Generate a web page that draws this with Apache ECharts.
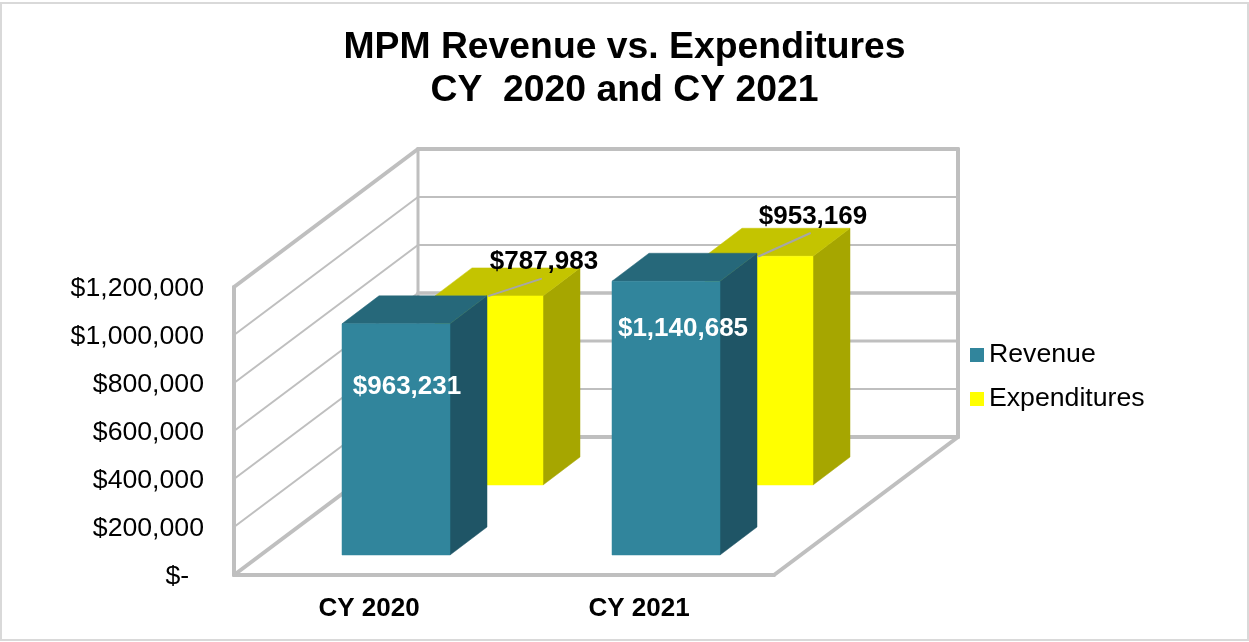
<!DOCTYPE html>
<html>
<head>
<meta charset="utf-8">
<style>html,body{margin:0;padding:0;background:#fff}#c{width:1249px;height:642px}</style>
<script src="https://cdn.jsdelivr.net/npm/echarts@6/dist/echarts.min.js"></script>
</head>
<body>
<div id="c"></div>
<script>
const categories = ['CY 2020', 'CY 2021'];
const revenue = [963231, 1140685];
const expenditures = [787983, 953169];
const tickValues = [0, 200000, 400000, 600000, 800000, 1000000, 1200000];
const tickLabels = ['$-  ', '$200,000', '$400,000', '$600,000', '$800,000', '$1,000,000', '$1,200,000'];
const revenueLabels = ['$963,231', '$1,140,685'];
const expenditureLabels = ['$787,983', '$953,169'];

const FONT = '"Liberation Sans", Arial, sans-serif';
const DEPTH = [184, -138];          // full depth of the 3D box in pixels
const WALL = '#BFBFBF';
const backWidths = [4, 2, 3, 3.5, 2, 2, 4];
const sideWidths = [4, 2, 2, 2, 2, 2, 4];

function line(x1, y1, x2, y2, w, color) {
  return { type: 'line', shape: { x1, y1, x2, y2 }, style: { stroke: color || WALL, lineWidth: w, lineCap: 'round', fill: null } };
}
function poly(points, fill) {
  return { type: 'polygon', shape: { points }, style: { fill, stroke: fill, lineWidth: 0.5 } };
}

function wallItem(params, api) {
  const i = params.dataIndex;
  const band = api.size([1, 0])[0];
  const p = api.coord([0, api.value(1)]);
  const xL = p[0] - band / 2, y = p[1];
  const xR = xL + band * categories.length;
  const [dx, dy] = DEPTH;
  const kids = [
    line(xL, y, xL + dx, y + dy, sideWidths[i]),
    line(xL + dx, y + dy, xR + dx, y + dy, backWidths[i])
  ];
  if (i === 0) {
    const top = api.coord([0, tickValues[tickValues.length - 1]])[1];
    kids.push(line(xL, y, xL, top, 4));
    kids.push(line(xL + dx, y + dy, xL + dx, top + dy, 3));
    kids.push(line(xR + dx, y + dy, xR + dx, top + dy, 4));
    kids.push(line(xL, y, xR, y, 4));
    kids.push(line(xR, y, xR + dx, y + dy, 4));
  }
  return { type: 'group', children: kids };
}

function barRenderer(cfg) {
  return function (params, api) {
    const i = params.dataIndex;
    const band = api.size([1, 0])[0];
    const c = api.coord([api.value(0), api.value(1)]);
    const c0 = api.coord([api.value(0), 0]);
    const w = band * 0.4;
    const x0 = c[0] - w / 2 + cfg.offX, x1 = x0 + w;
    const yt = c[1] + cfg.offY, yb = c0[1] + cfg.offY;
    const dx = 37, dy = -28;
    const kids = [
      poly([[x1, yt], [x1 + dx, yt + dy], [x1 + dx, yb + dy], [x1, yb]], cfg.side),
      poly([[x0, yt], [x0 + dx, yt + dy], [x1 + dx, yt + dy], [x1, yt]], cfg.top),
      poly([[x0, yt], [x1, yt], [x1, yb], [x0, yb]], cfg.front)
    ];
    if (cfg.leader) {
      const l = cfg.leader[i];
      kids.push(line(x0 + l[0], yt + l[1], x0 + l[2], yt + l[3], 2, '#A6A6A6'));
    }
    const o = cfg.labelAt[i];
    kids.push({
      type: 'text', z2: 10,
      style: {
        text: cfg.labels[i], x: x0 + o[0], y: yt + o[1],
        textAlign: 'center', textVerticalAlign: 'middle',
        fill: cfg.textColor, font: 'bold 26px ' + FONT
      }
    });
    return { type: 'group', children: kids };
  };
}

const chart = echarts.init(document.getElementById('c'), null, { renderer: 'canvas' });
chart.setOption({
  animation: false,
  backgroundColor: '#fff',
  graphic: [{
    type: 'rect', silent: true, z: -10,
    shape: { x: 1, y: 3, width: 1247, height: 637 },
    style: { fill: '#fff', stroke: '#D9D9D9', lineWidth: 2 }
  }],
  title: {
    text: 'MPM Revenue vs. Expenditures\nCY  2020 and CY 2021',
    left: 'center', top: 26, padding: 0,
    textStyle: { fontFamily: FONT, fontWeight: 'bold', fontSize: 37.33, lineHeight: 43, color: '#000' }
  },
  legend: {
    orient: 'vertical', left: 970, top: 340, padding: 0,
    itemWidth: 14, itemHeight: 14, itemGap: 14,
    icon: 'rect',
    data: ['Revenue', 'Expenditures'],
    textStyle: { fontFamily: FONT, fontSize: 26.67, color: '#000', lineHeight: 30 }
  },
  grid: { left: 234, top: 287, width: 540, height: 288, containLabel: false },
  xAxis: {
    type: 'category', data: categories,
    axisLine: { show: false }, axisTick: { show: false }, splitLine: { show: false },
    axisLabel: { margin: 21, color: '#000', fontFamily: FONT, fontWeight: 'bold', fontSize: 26 }
  },
  yAxis: {
    type: 'value', min: 0, max: 1200000, interval: 200000,
    axisLine: { show: false }, axisTick: { show: false }, splitLine: { show: false },
    axisLabel: {
      margin: 30, color: '#000', fontFamily: FONT, fontSize: 26.67,
      verticalAlign: 'top', lineHeight: 3,
      formatter: v => tickLabels[tickValues.indexOf(v)]
    }
  },
  series: [
    {
      type: 'custom', z: 1, clip: false, silent: true,
      encode: { x: 0, y: 1 },
      data: tickValues.map(v => [0, v]),
      renderItem: wallItem
    },
    {
      name: 'Expenditures', type: 'custom', z: 2, clip: false,
      itemStyle: { color: '#FFFF00' },
      encode: { x: 0, y: 1 },
      data: expenditures.map((v, i) => [i, v]),
      renderItem: barRenderer({
        offX: 120, offY: -90, front: '#FFFF00', top: '#C4C400', side: '#A6A600',
        labels: expenditureLabels, textColor: '#000',
        labelAt: [[109, -34], [108, -39]],
        leader: [[54, 0, 106, -17], [54, 0, 105, -23]]
      })
    },
    {
      name: 'Revenue', type: 'custom', z: 3, clip: false,
      itemStyle: { color: '#31859C' },
      encode: { x: 0, y: 1 },
      data: revenue.map((v, i) => [i, v]),
      renderItem: barRenderer({
        offX: 27, offY: -20, front: '#31859C', top: '#26687A', side: '#1F5566',
        labels: revenueLabels, textColor: '#fff',
        labelAt: [[65, 63], [71, 48]]
      })
    }
  ]
});
</script>
</body>
</html>
